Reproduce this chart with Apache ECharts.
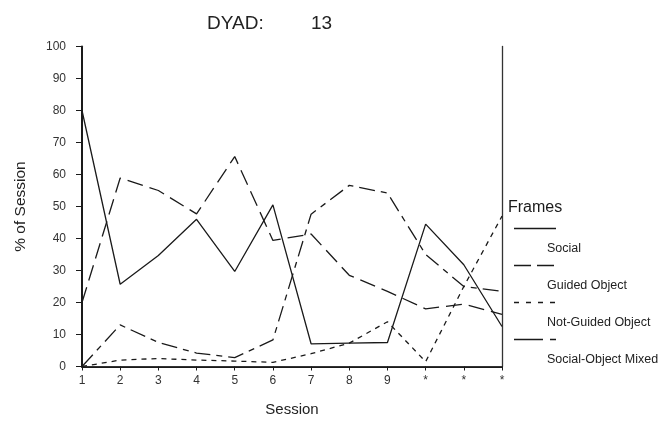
<!DOCTYPE html>
<html>
<head>
<meta charset="utf-8">
<script src="https://cdn.jsdelivr.net/npm/echarts@6/dist/echarts.min.js"></script>
<style>html,body{margin:0;padding:0;background:#fff}#c{width:660px;height:425px}</style>
</head>
<body>
<div id="c"></div>
<script>
const sessions = ['1','2','3','4','5','6','7','8','9','*','*','*'];
const yTicks = [0,10,20,30,40,50,60,70,80,90,100];
const seriesNames = ['Social','Guided Object','Not-Guided Object','Social-Object Mixed'];
const social = [80, 25.7, 34.7, 46, 29.7, 50.5, 7.1, 7.3, 7.5, 44.5, 31.8, 12.5];
const guidedObject = [20, 58.9, 55, 47.7, 65.6, 39.4, 41.4, 28.5, 23.5, 18, 19.5, 16.3];
const notGuidedObject = [0, 2, 2.5, 2, 1.7, 1.3, 4, 7.3, 14, 1.5, 25, 47];
const socialObjectMixed = [0, 13, 7.5, 4.2, 2.8, 8.3, 47.6, 56.6, 54.2, 35, 25, 23.5];
const titleLabel = 'DYAD:';
const titleValue = '13';

const dashes = ['solid', [16,7], [5,5], [16,6,6,6]];
const legendDashes = [null, [17,6], [5,7], [29,7,6,100]];
const values = [social, guidedObject, notGuidedObject, socialObjectMixed];
const font = '"Liberation Sans", Arial, sans-serif';
const ink = '#1a1a1a';

const chart = echarts.init(document.getElementById('c'), null, {renderer:'canvas'});

const legendGraphics = [{
  type:'text', left:508, top:200,
  style:{text:'Frames', font:'16px ' + font, fill:ink}
}];
seriesNames.forEach((n,i)=>{
  const ly = 228.5 + i*37;
  legendGraphics.push({
    type:'line', shape:{x1:514,y1:ly,x2:556,y2:ly},
    style:{stroke:ink, lineWidth:1.3, lineDash: legendDashes[i]}
  });
  legendGraphics.push({
    type:'text', left:547, top: ly+14,
    style:{text:n, font:'12.5px ' + font, fill:'#222'}
  });
});
legendGraphics.push({type:'text', left:207, top:14, style:{text:titleLabel, font:'19px '+font, fill:'#222'}});
legendGraphics.push({type:'text', left:311, top:14, style:{text:titleValue, font:'19px '+font, fill:'#222'}});

chart.setOption({
  animation:false,
  backgroundColor:'#fff',
  grid:{left:82, right:158, top:46.5, bottom:58.5, containLabel:false},
  xAxis:[{
    type:'category', data:sessions, boundaryGap:false,
    name:'Session', nameLocation:'middle', nameGap:36,
    nameTextStyle:{fontSize:15, color:'#222', fontFamily:font},
    axisLine:{lineStyle:{color:ink, width:2}},
    axisTick:{show:true, length:4, inside:false, lineStyle:{color:ink, width:1}},
    axisLabel:{fontSize:12, color:'#333', fontFamily:font, margin:8, interval:0},
    splitLine:{show:false}
  },{
    type:'category', data:sessions, boundaryGap:false, position:'top',
    axisLine:{lineStyle:{color:'#333', width:1}}, axisTick:{show:false}, axisLabel:{show:false}
  }],
  yAxis:[{
    type:'value', min:yTicks[0], max:yTicks[yTicks.length-1], interval:10,
    name:'% of Session', nameLocation:'middle', nameGap:53,
    nameTextStyle:{fontSize:15.5, color:'#222', fontFamily:font},
    axisLine:{show:true, lineStyle:{color:ink, width:2}},
    axisTick:{show:true, length:6, lineStyle:{color:ink, width:1}},
    axisLabel:{fontSize:12, color:'#333', fontFamily:font, margin:16},
    splitLine:{show:false}
  },{
    type:'value', min:yTicks[0], max:yTicks[yTicks.length-1], position:'right',
    axisLine:{show:true, lineStyle:{color:'#333', width:1.3}}, axisTick:{show:false}, axisLabel:{show:false}, splitLine:{show:false}
  }],
  series: seriesNames.map((n,i)=>({
    name:n, type:'line', data:values[i], symbol:'none', silent:true,
    lineStyle:{color:ink, width:1.3, type:dashes[i]},
    z: 3
  })),
  graphic: legendGraphics
});
</script>
</body>
</html>
